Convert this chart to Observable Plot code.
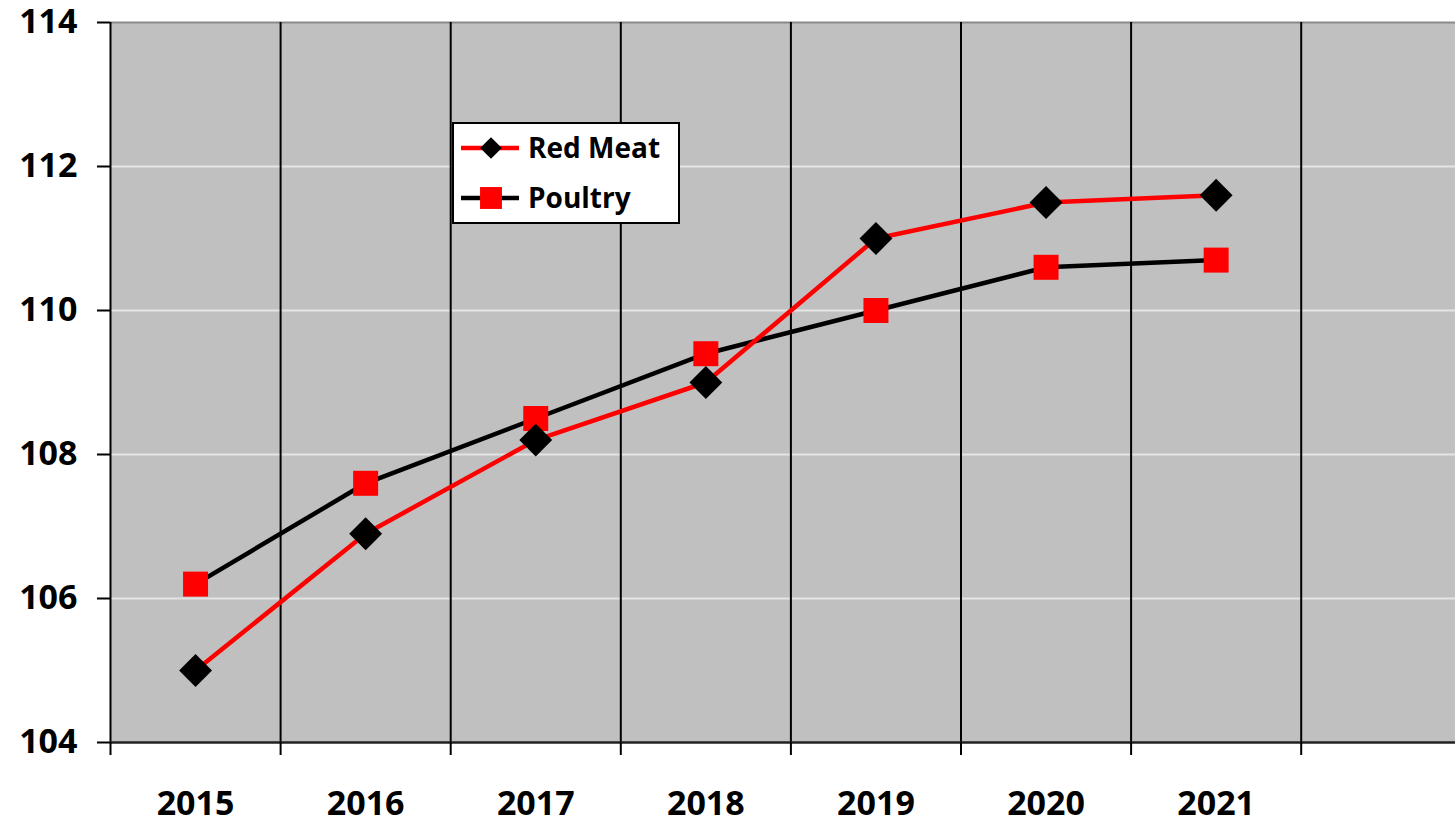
<!DOCTYPE html>
<html>
<head>
<meta charset="utf-8">
<script src="https://cdn.jsdelivr.net/npm/d3@7"></script>
<script src="https://cdn.jsdelivr.net/npm/@observablehq/plot@0.6"></script>
<style>
  html, body { margin: 0; padding: 0; background: #fff; }
  #wrap { position: relative; width: 1455px; height: 824px; font-family: "Open Sans", Lato, sans-serif; }
  #legend { position: absolute; left: 452px; top: 122px; }
</style>
</head>
<body>
<div id="wrap"></div>
<script>
const years = [2015, 2016, 2017, 2018, 2019, 2020, 2021];
const redMeat = [105.0, 106.9, 108.2, 109.0, 111.0, 111.5, 111.6];
const poultry = [106.2, 107.6, 108.5, 109.4, 110.0, 110.6, 110.7];
const yTicks = [104, 106, 108, 110, 112, 114];
const seriesNames = ["Red Meat", "Poultry"];

const FONT = "'Open Sans', Lato, sans-serif";
const redData = years.map((y, i) => ({year: y, value: redMeat[i]}));
const poultryData = years.map((y, i) => ({year: y, value: poultry[i]}));
const boundaries = d3.range(years[0] - 0.5, years[years.length - 1] + 1.5, 1); // 2014.5 .. 2021.5
const innerGrid = boundaries.slice(1);

const chart = Plot.plot({
  width: 1455,
  height: 824,
  marginLeft: 110,
  marginRight: 0,
  marginTop: 22,
  marginBottom: 82,
  style: {fontFamily: FONT, background: "#fff", overflow: "visible"},
  x: {type: "linear", domain: [2014.5, 2014.5 + 1345 / 170.1], axis: null},
  y: {domain: [104, 114], axis: null},
  marks: [
    Plot.frame({fill: "#c0c0c0", stroke: null}),
    Plot.ruleY(yTicks.filter(t => t > 104 && t < 114), {stroke: "#e4e4e4", strokeWidth: 2}),
    Plot.ruleY([114], {stroke: "#8a8a8a", strokeWidth: 2}),
    Plot.ruleX(innerGrid, {stroke: "#000", strokeWidth: 2}),
    Plot.ruleX([boundaries[0]], {stroke: "#000", strokeWidth: 2}),
    Plot.ruleY([104], {stroke: "#222", strokeWidth: 2.5}),
    Plot.axisY({ticks: yTicks, tickSize: 13, tickPadding: 20, tickFormat: d => String(d), label: null,
      fontSize: 34, fontWeight: "bold", stroke: "#000", strokeWidth: 2, fill: "#000"}),
    Plot.axisX({ticks: boundaries, tickSize: 13, tickFormat: () => "", label: null, stroke: "#000", strokeWidth: 2}),
    Plot.axisX({ticks: years, tickSize: 0, tickPadding: 48, tickFormat: d => String(d), label: null,
      fontSize: 34, fontWeight: "bold", fill: "#000"}),
    Plot.line(poultryData, {x: "year", y: "value", stroke: "#000", strokeWidth: 4.5}),
    Plot.line(redData, {x: "year", y: "value", stroke: "#ff0000", strokeWidth: 4.5}),
    Plot.dot(poultryData, {x: "year", y: "value", symbol: "square", r: 14.1, fill: "#ff0000", stroke: null}),
    Plot.dot(redData, {x: "year", y: "value", symbol: "diamond2", r: 14.8, fill: "#000", stroke: null})
  ]
});

const wrap = document.getElementById("wrap");
wrap.appendChild(chart);

// Legend
const lg = d3.create("svg").attr("id", "legend").attr("width", 228).attr("height", 102)
  .style("font-family", FONT);
lg.append("rect").attr("x", 1).attr("y", 1).attr("width", 226).attr("height", 100)
  .attr("fill", "#fff").attr("stroke", "#000").attr("stroke-width", 2);
const items = [
  {name: seriesNames[0], line: "#ff0000", mark: "#000", sym: d3.symbolDiamond2, size: 300, cy: 26},
  {name: seriesNames[1], line: "#000", mark: "#ff0000", sym: d3.symbolSquare, size: 480, cy: 76}
];
for (const it of items) {
  lg.append("line").attr("x1", 9).attr("x2", 67).attr("y1", it.cy).attr("y2", it.cy)
    .attr("stroke", it.line).attr("stroke-width", 4.5);
  lg.append("path").attr("d", d3.symbol(it.sym, it.size)()).attr("transform", `translate(39,${it.cy})`)
    .attr("fill", it.mark);
  lg.append("text").attr("x", 76).attr("y", it.cy).attr("dy", "0.35em").attr("font-size", 28)
    .attr("font-weight", "bold").attr("fill", "#000").text(it.name);
}
wrap.appendChild(lg.node());
</script>
</body>
</html>
